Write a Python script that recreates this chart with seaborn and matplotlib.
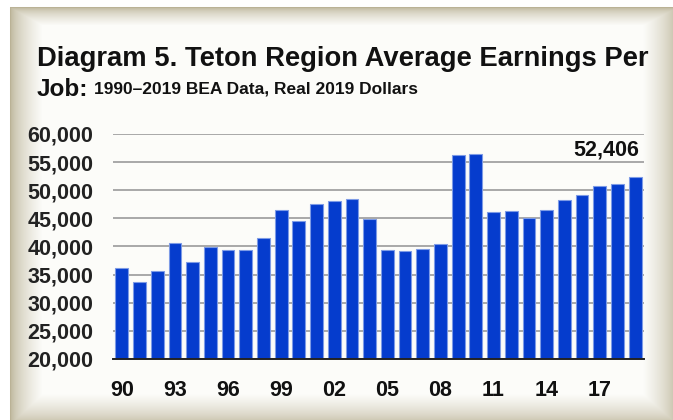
import numpy as np
import pandas as pd
import matplotlib
matplotlib.use('Agg')
import matplotlib.pyplot as plt
import seaborn as sns

# %% dados (dolares reais de 2019)
anos = [str(a)[2:] for a in range(1990, 2020)]
ganhos = [36200, 33700, 35600, 40700, 37200, 39900, 39400, 39400, 41500, 46400,
          44500, 47500, 48000, 48400, 44900, 39400, 39200, 39600, 40400, 56200,
          56400, 46100, 46300, 45000, 46400, 48200, 49200, 50800, 51100, 52406]
rotulos_y = [20000, 25000, 30000, 35000, 40000, 45000, 50000, 55000, 60000]
rotulo_final = '52,406'

df = pd.DataFrame({'ano': anos, 'ganho': ganhos})

# %%
sns.set_style('white')
plt.rcParams['font.family'] = ['Liberation Sans', 'DejaVu Sans']
plt.rcParams['font.weight'] = 'bold'

W, H = 673, 420
fig = plt.figure(figsize=(W / 100, H / 100), dpi=100)

# fundo com moldura bege e vinheta
bg = fig.add_axes([0, 0, 1, 1], zorder=-10)
xx, yy = np.meshgrid(np.arange(W), np.arange(H))
borda = np.array([186, 178, 150]) / 255
centro = np.array([252, 252, 249]) / 255
t = np.minimum.reduce([
    np.clip((xx - 10) / 32, 0, 1),
    np.clip((yy - 7) / 18, 0, 1),
    np.clip((W + 4 - xx) / 34, 0, 1),
    np.clip((H + 4 - yy) / 30, 0, 1),
])
t = t ** 0.6
img = borda[None, None, :] * (1 - t[..., None]) + centro[None, None, :] * t[..., None]
fora = (xx < 10) | (yy < 7)
img[fora] = 1.0
bg.imshow(img, aspect='auto', interpolation='bilinear')
bg.axis('off')

ax = fig.add_axes([113 / W, 1 - 359 / H, (644 - 113) / W, (359 - 134) / H])
ax.patch.set_alpha(0)

sns.barplot(data=df, x='ano', y='ganho', color='#053ccd', saturation=1,
            width=0.72, edgecolor='#7d9be6', linewidth=0.8, ax=ax, zorder=3)

ax.set_ylim(20000, 60000)
ax.set_xlim(-0.5, len(anos) - 0.5)
ax.set_yticks(rotulos_y)
ax.set_yticklabels([f'{v:,}' for v in rotulos_y])
ax.set_xticks(range(0, len(anos), 3))
ax.set_xticklabels(anos[::3])
ax.set_xticks(np.arange(-0.5, len(anos), 1), minor=True)

ax.tick_params(axis='y', length=0, pad=14, labelsize=15.5, labelcolor='#222222')
ax.tick_params(axis='x', which='major', length=0, pad=15, labelsize=15.5, labelcolor='#111111')
ax.tick_params(axis='x', which='minor', length=6, width=1.2, color='#222222', direction='out')

ax.grid(axis='y', color='#a8a8a8', linewidth=1.4, zorder=0)
ax.set_axisbelow(True)
for s in ['top', 'right', 'left']:
    ax.spines[s].set_visible(False)
ax.spines['bottom'].set_color('#222222')
ax.spines['bottom'].set_linewidth(1.4)
ax.spines['bottom'].set_zorder(5)
ax.set_xlabel('')
ax.set_ylabel('')

ax.annotate(rotulo_final, xy=(len(anos) - 1, ganhos[-1]), xytext=(3, 19),
            textcoords='offset points', ha='right', va='center',
            fontsize=15.5, fontweight='bold', color='#111111')

fig.text(37 / W, 1 - 59 / H, 'Diagram 5. Teton Region Average Earnings Per',
         fontsize=19.7, fontweight='bold', color='#111111', va='center')
job = fig.text(37 / W, 1 - 89 / H, 'Job:', fontsize=17.5, fontweight='bold',
               color='#111111', va='center')
fig.canvas.draw()
fim_job = job.get_window_extent().x1
fig.text((fim_job + 6) / W, 1 - 89.5 / H, '1990\u20132019 BEA Data, Real 2019 Dollars',
         fontsize=12.5, fontweight='bold', color='#111111', va='center')

fig.savefig('out.png', dpi=100)
